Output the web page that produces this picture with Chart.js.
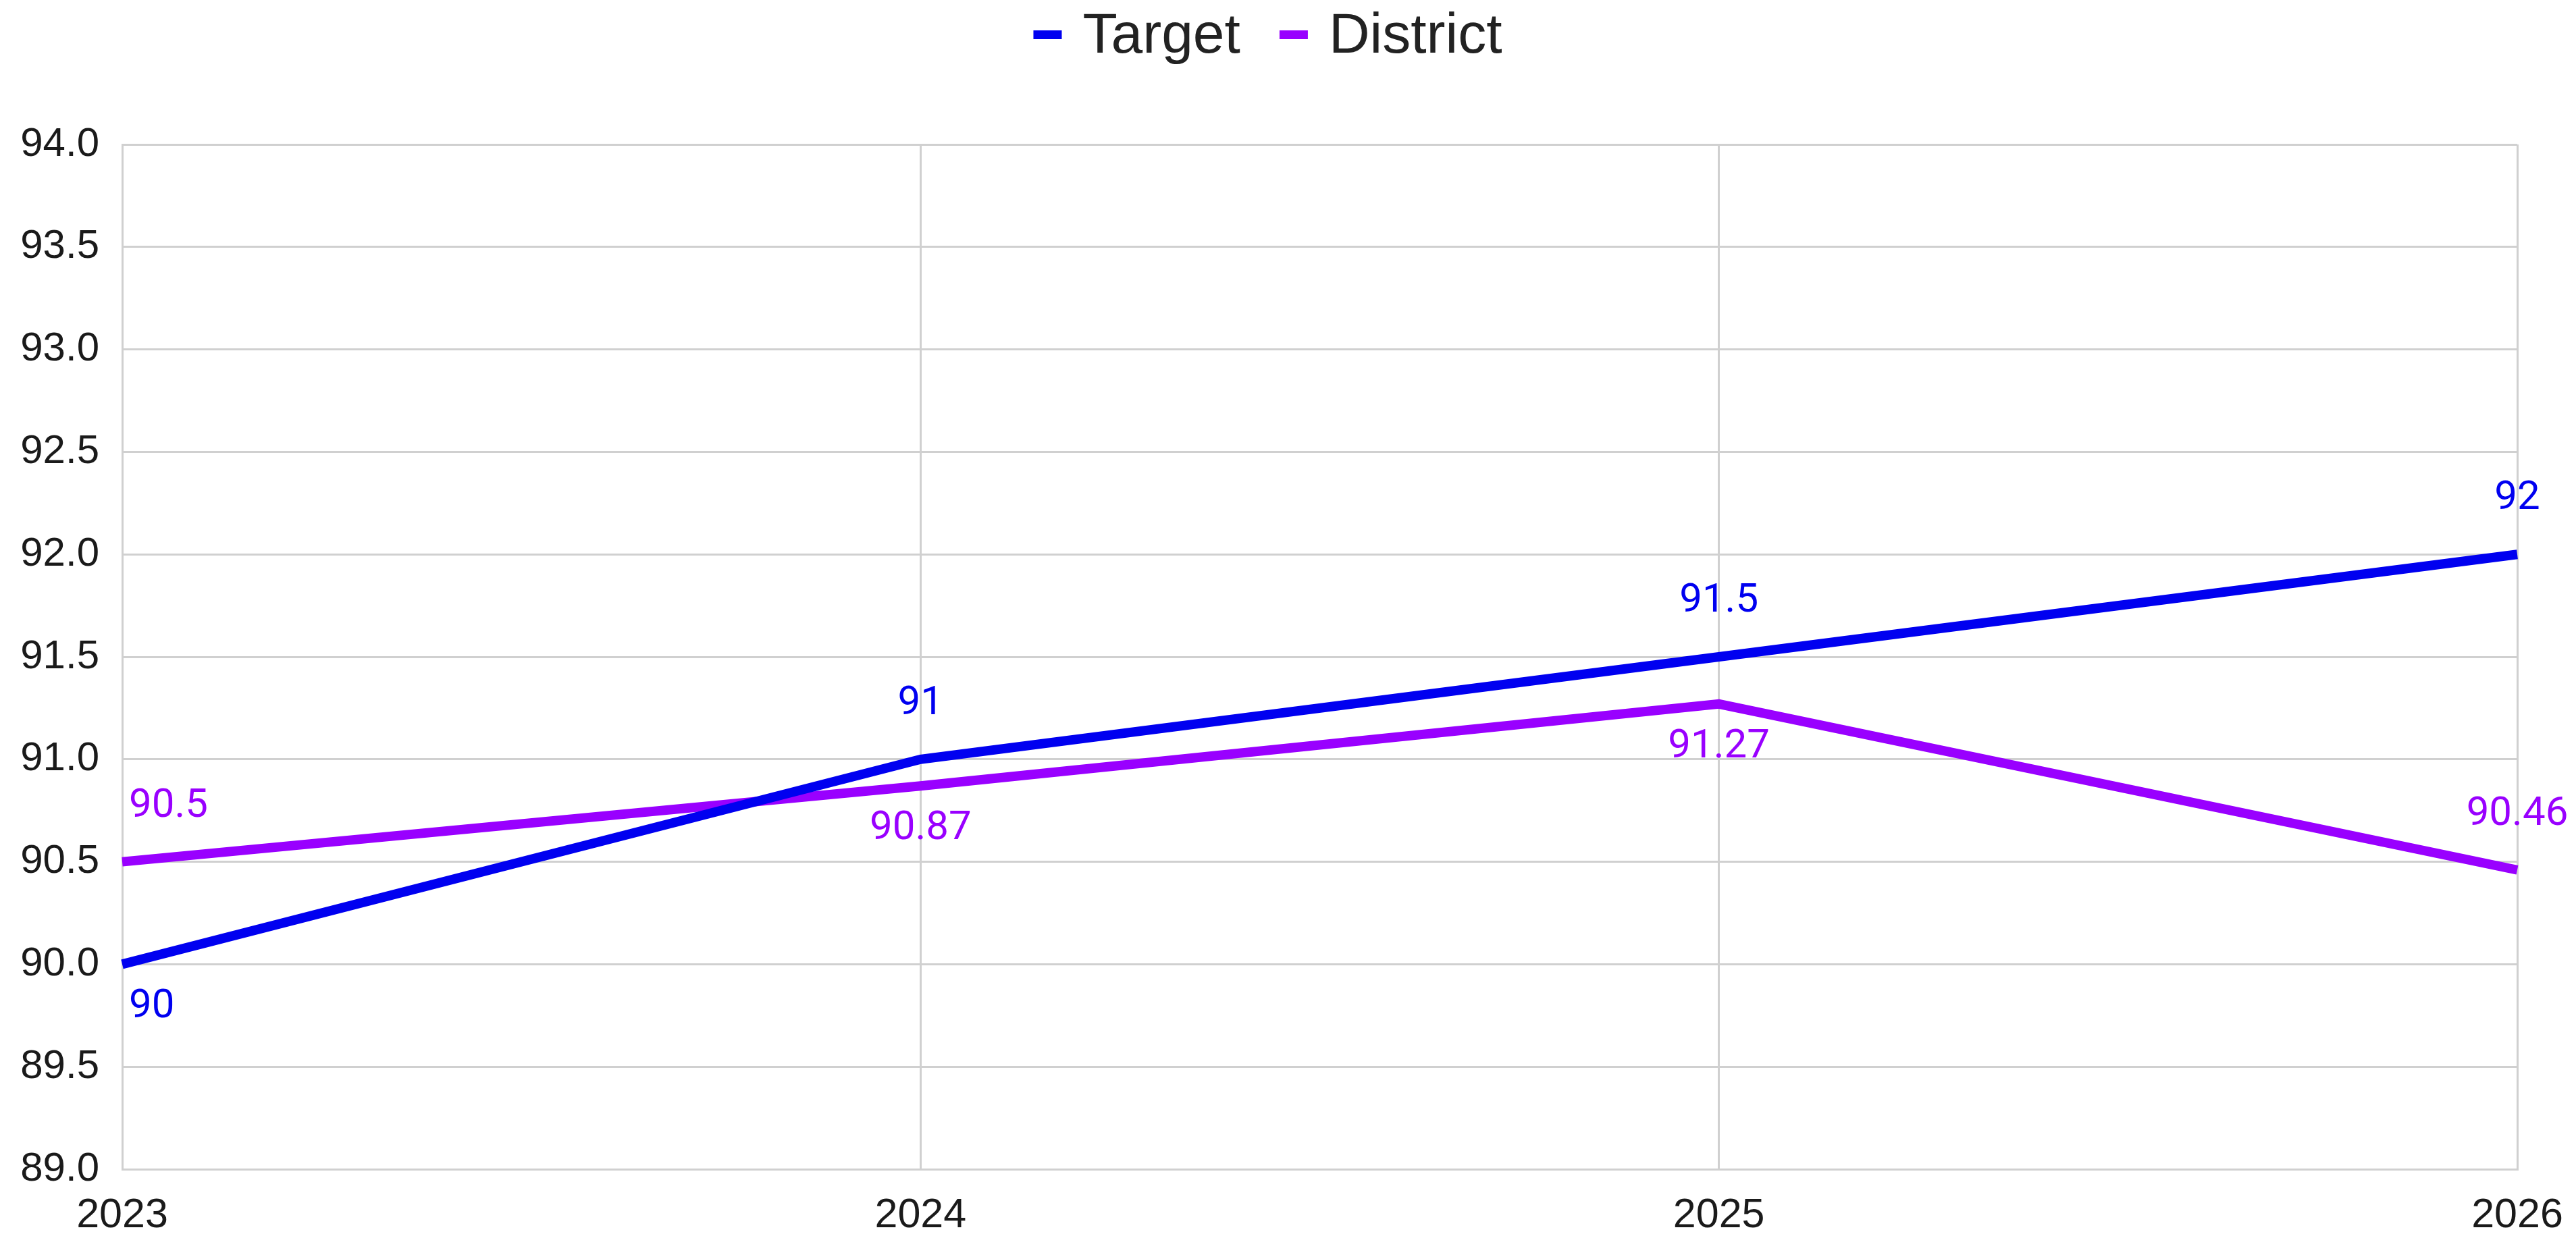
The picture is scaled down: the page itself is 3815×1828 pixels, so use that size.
<!DOCTYPE html>
<html lang="en">
<head>
    <meta charset="UTF-8">
    <title>Target vs District</title>
    <script src="https://cdn.jsdelivr.net/npm/chart.js"></script>
    <style>
        html, body { margin: 0; padding: 0; background: #fff; }
        .chart-box { width: 3815px; height: 1828px; }
    </style>
</head>
<body>
    <div class="chart-box">
        <canvas id="lineChart"></canvas>
    </div>

    <script>
        // Chart data
        const years = ['2023', '2024', '2025', '2026'];
        const targetData = [90, 91, 91.5, 92];
        const districtData = [90.5, 90.87, 91.27, 90.46];

        // where each value label sits relative to its point
        const targetLabelPos = ['below', 'above', 'above', 'above'];
        const districtLabelPos = ['above', 'below', 'below', 'above'];

        // Draws the value labels next to each point
        const valueLabels = {
            id: 'valueLabels',
            afterDatasetsDraw(chart) {
                const ctx = chart.ctx;
                ctx.save();
                ctx.font = '60px Roboto';
                ctx.textBaseline = 'middle';
                chart.data.datasets.forEach((ds, i) => {
                    const meta = chart.getDatasetMeta(i);
                    meta.data.forEach((pt, j) => {
                        const above = ds.labelPos[j] === 'above';
                        const y = above ? pt.y - 82 : pt.y + 64;
                        let x = pt.x;
                        if (j === 0) {
                            ctx.textAlign = 'left';
                            x = pt.x + 10;
                        } else {
                            ctx.textAlign = 'center';
                        }
                        ctx.fillStyle = ds.borderColor;
                        ctx.fillText(String(ds.data[j]), x, y);
                    });
                });
                ctx.restore();
            }
        };

        // Simple legend across the top (short colour bar + name)
        const topLegend = {
            id: 'topLegend',
            afterDraw(chart) {
                const ctx = chart.ctx;
                ctx.save();
                ctx.font = '84px "Liberation Sans"';
                ctx.textBaseline = 'alphabetic';
                ctx.textAlign = 'left';
                const sets = chart.data.datasets;
                const barW = 42, barGap = 31, itemGap = 58;
                let total = 0;
                sets.forEach((ds, i) => {
                    total += barW + barGap + ctx.measureText(ds.label).width;
                    if (i < sets.length - 1) total += itemGap;
                });
                let x = chart.width / 2 - 30 - total / 2;
                sets.forEach((ds) => {
                    ctx.fillStyle = ds.borderColor;
                    ctx.fillRect(x, 45, barW, 13);
                    x += barW + barGap;
                    ctx.fillStyle = '#222';
                    ctx.fillText(ds.label, x, 78);
                    x += ctx.measureText(ds.label).width + itemGap;
                });
                ctx.restore();
            }
        };

        const ctx = document.getElementById('lineChart').getContext('2d');
        const lineChart = new Chart(ctx, {
            type: 'line',
            data: {
                labels: years,
                datasets: [{
                    label: 'Target',
                    data: targetData,
                    labelPos: targetLabelPos,
                    borderColor: '#0000f0',
                    backgroundColor: '#0000f0',
                    borderWidth: 14,
                    pointRadius: 0,
                    tension: 0,
                    fill: false
                }, {
                    label: 'District',
                    data: districtData,
                    labelPos: districtLabelPos,
                    borderColor: '#9900ff',
                    backgroundColor: '#9900ff',
                    borderWidth: 14,
                    pointRadius: 0,
                    tension: 0,
                    fill: false
                }]
            },
            options: {
                responsive: true,
                maintainAspectRatio: false,
                animation: false,
                layout: { padding: { left: 0, right: 87, top: 214, bottom: 0 } },
                plugins: {
                    tooltip: { enabled: false },
                    legend: { display: false }
                },
                scales: {
                    x: {
                        offset: false,
                        grid: { color: '#d0d0d0', lineWidth: 3, drawTicks: false },
                        border: { color: '#d0d0d0', width: 3 },
                        ticks: {
                            font: { family: 'Liberation Sans', size: 61 },
                            color: '#1a1a1a',
                            padding: 33,
                            maxRotation: 0
                        },
                        afterFit(scale) {
                            scale.height = 96;
                            scale.paddingLeft = 0;
                            scale.paddingRight = 0;
                        }
                    },
                    y: {
                        min: 89,
                        max: 94,
                        grid: { color: '#d0d0d0', lineWidth: 3, drawTicks: false },
                        border: { color: '#d0d0d0', width: 3 },
                        ticks: {
                            stepSize: 0.5,
                            font: { family: 'Liberation Sans', size: 60 },
                            color: '#1a1a1a',
                            padding: 34,
                            callback: (v) => Number(v).toFixed(1)
                        },
                        afterFit(scale) { scale.width = 181; }
                    }
                }
            },
            plugins: [valueLabels, topLegend]
        });
    </script>
</body>
</html>
